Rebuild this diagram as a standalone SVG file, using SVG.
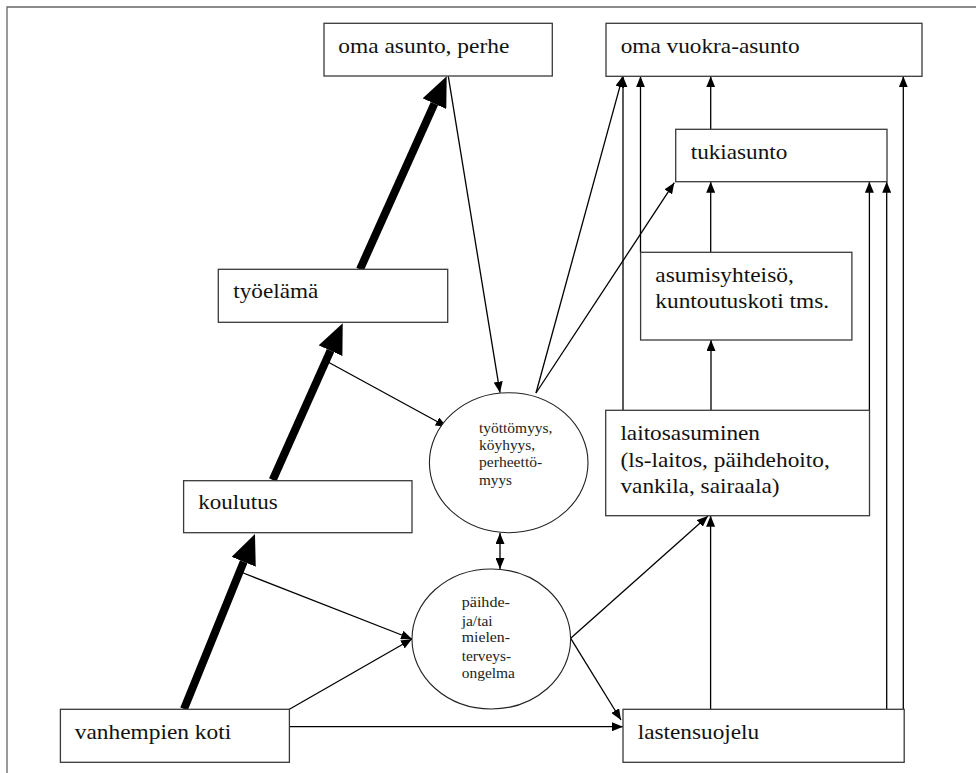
<svg xmlns="http://www.w3.org/2000/svg" width="976" height="773" viewBox="0 0 976 773">
<style>
.box{fill:#fff;stroke:#3a3a3a;stroke-width:1.3}
.ell{fill:#fff;stroke:#222;stroke-width:1.1}
.t{font-family:'Liberation Serif','Times New Roman',serif;font-size:21px;fill:#111}
.s{font-family:'Liberation Serif','Times New Roman',serif;font-size:14px;fill:#222}
.ln{fill:none;stroke:#000;stroke-width:1.3}
.thick{fill:none;stroke:#000;stroke-width:8}
.frame{fill:none;stroke:#666;stroke-width:1.3}
</style>
<defs>
<marker id="a" viewBox="0 0 11 9" refX="11" refY="4.5" markerWidth="11" markerHeight="9" orient="auto" markerUnits="userSpaceOnUse"><path d="M0,0 L11,4.5 L0,9 z" fill="#000"/></marker>
<marker id="as" viewBox="0 0 11 9" refX="0" refY="4.5" markerWidth="11" markerHeight="9" orient="auto" markerUnits="userSpaceOnUse"><path d="M11,0 L0,4.5 L11,9 z" fill="#000"/></marker>
<marker id="big" viewBox="0 0 30 26" refX="0" refY="13" markerWidth="30" markerHeight="26" orient="auto" markerUnits="userSpaceOnUse"><path d="M0,0 L30,13 L0,26 z" fill="#000"/></marker>
</defs>
<path class="frame" d="M976,7 H7 V773"/>
<g id="connectors">
<line class="thick" x1="184" y1="709" x2="243.7" y2="561.8" marker-end="url(#big)"/>
<line class="thick" x1="272.7" y1="480" x2="330.5" y2="350.7" marker-end="url(#big)"/>
<line class="thick" x1="360" y1="269.3" x2="434.4" y2="103.7" marker-end="url(#big)"/>
<line class="ln" x1="328" y1="362" x2="446.7" y2="426.7" marker-end="url(#a)"/>
<line class="ln" x1="242" y1="572.5" x2="412" y2="639" marker-end="url(#a)"/>
<line class="ln" x1="289.4" y1="709.3" x2="412" y2="639" marker-end="url(#a)"/>
<line class="ln" x1="448.3" y1="76.3" x2="500" y2="392.7" marker-end="url(#a)"/>
<line class="ln" x1="536" y1="393" x2="622.7" y2="76.3" marker-end="url(#a)"/>
<line class="ln" x1="536" y1="393" x2="674.3" y2="182.7" marker-end="url(#a)"/>
<line class="ln" x1="623" y1="410.3" x2="623" y2="76.3" marker-end="url(#a)"/>
<line class="ln" x1="640.5" y1="252.3" x2="640.5" y2="76.3" marker-end="url(#a)"/>
<line class="ln" x1="710.7" y1="129.3" x2="710.7" y2="76.3" marker-end="url(#a)"/>
<line class="ln" x1="903.3" y1="709.3" x2="903.3" y2="76.3" marker-end="url(#a)"/>
<line class="ln" x1="710.7" y1="252.3" x2="710.7" y2="181.7" marker-end="url(#a)"/>
<line class="ln" x1="869.4" y1="410.3" x2="869.4" y2="181.7" marker-end="url(#a)"/>
<line class="ln" x1="886.7" y1="709.3" x2="886.7" y2="181.7" marker-end="url(#a)"/>
<line class="ln" x1="711" y1="410.3" x2="711" y2="340" marker-end="url(#a)"/>
<line class="ln" x1="710.6" y1="709.3" x2="710.6" y2="515.7" marker-end="url(#a)"/>
<line class="ln" x1="570.7" y1="638.3" x2="708" y2="516" marker-end="url(#a)"/>
<line class="ln" x1="570.7" y1="638.3" x2="621" y2="720" marker-end="url(#a)"/>
<line class="ln" x1="289.4" y1="726.7" x2="623" y2="726.7" marker-end="url(#a)"/>
<line class="ln" x1="500" y1="533" x2="500" y2="569" marker-start="url(#as)" marker-end="url(#a)"/>
</g>
<g id="oma-asunto">
<rect class="box" x="324" y="23.3" width="228.3" height="52.7"/>
<text class="t" x="338.3" y="53.3" textLength="171" lengthAdjust="spacingAndGlyphs">oma asunto, perhe</text>
</g>
<g id="oma-vuokra-asunto">
<rect class="box" x="606" y="23.3" width="316" height="53"/>
<text class="t" x="620.7" y="53.3" textLength="179" lengthAdjust="spacingAndGlyphs">oma vuokra-asunto</text>
</g>
<g id="tukiasunto">
<rect class="box" x="675.7" y="129.3" width="211.3" height="52.4"/>
<text class="t" x="690.7" y="159.3" textLength="96.7" lengthAdjust="spacingAndGlyphs">tukiasunto</text>
</g>
<g id="asumisyhteiso">
<rect class="box" x="640.6" y="252.3" width="211.3" height="87.7"/>
<text class="t" x="655.3" y="281.7" textLength="138.5" lengthAdjust="spacingAndGlyphs">asumisyhteisö,</text>
<text class="t" x="655.3" y="307.7" textLength="173.8" lengthAdjust="spacingAndGlyphs">kuntoutuskoti tms.</text>
</g>
<g id="laitosasuminen">
<rect class="box" x="605.7" y="410.3" width="263.8" height="105.4"/>
<text class="t" x="620.4" y="440" textLength="139.6" lengthAdjust="spacingAndGlyphs">laitosasuminen</text>
<text class="t" x="620.4" y="466.7" textLength="209.4" lengthAdjust="spacingAndGlyphs">(ls-laitos, päihdehoito,</text>
<text class="t" x="620.4" y="493.3" textLength="159.1" lengthAdjust="spacingAndGlyphs">vankila, sairaala)</text>
</g>
<g id="tyoelama">
<rect class="box" x="218.3" y="269.3" width="229.4" height="53"/>
<text class="t" x="233.3" y="298.3" textLength="85" lengthAdjust="spacingAndGlyphs">työelämä</text>
</g>
<g id="koulutus">
<rect class="box" x="183.6" y="480.7" width="228.4" height="52"/>
<text class="t" x="198.3" y="509.3" textLength="79.3" lengthAdjust="spacingAndGlyphs">koulutus</text>
</g>
<g id="tyottomyys">
<ellipse class="ell" cx="508.7" cy="462.7" rx="79.3" ry="70"/>
<text class="s" x="479" y="432.7" textLength="73.5" lengthAdjust="spacingAndGlyphs">työttömyys,</text>
<text class="s" x="479" y="450" textLength="56.2" lengthAdjust="spacingAndGlyphs">köyhyys,</text>
<text class="s" x="479" y="467.3" textLength="63.2" lengthAdjust="spacingAndGlyphs">perheettö-</text>
<text class="s" x="479" y="485" textLength="33" lengthAdjust="spacingAndGlyphs">myys</text>
</g>
<g id="paihde">
<ellipse class="ell" cx="491.3" cy="639" rx="79.3" ry="70"/>
<text class="s" x="461.7" y="607.3" textLength="48.3" lengthAdjust="spacingAndGlyphs">päihde-</text>
<text class="s" x="461.7" y="625.7" textLength="31" lengthAdjust="spacingAndGlyphs">ja/tai</text>
<text class="s" x="461.7" y="642.3" textLength="48.3" lengthAdjust="spacingAndGlyphs">mielen-</text>
<text class="s" x="461.7" y="660.7" textLength="49.3" lengthAdjust="spacingAndGlyphs">terveys-</text>
<text class="s" x="461.7" y="677.7" textLength="53.3" lengthAdjust="spacingAndGlyphs">ongelma</text>
</g>
<g id="vanhempien-koti">
<rect class="box" x="60.4" y="709.3" width="229" height="53"/>
<text class="t" x="74.7" y="739" textLength="156.5" lengthAdjust="spacingAndGlyphs">vanhempien koti</text>
</g>
<g id="lastensuojelu">
<rect class="box" x="623" y="709.3" width="281.2" height="53"/>
<text class="t" x="637.8" y="739" textLength="121.3" lengthAdjust="spacingAndGlyphs">lastensuojelu</text>
</g>
</svg>
